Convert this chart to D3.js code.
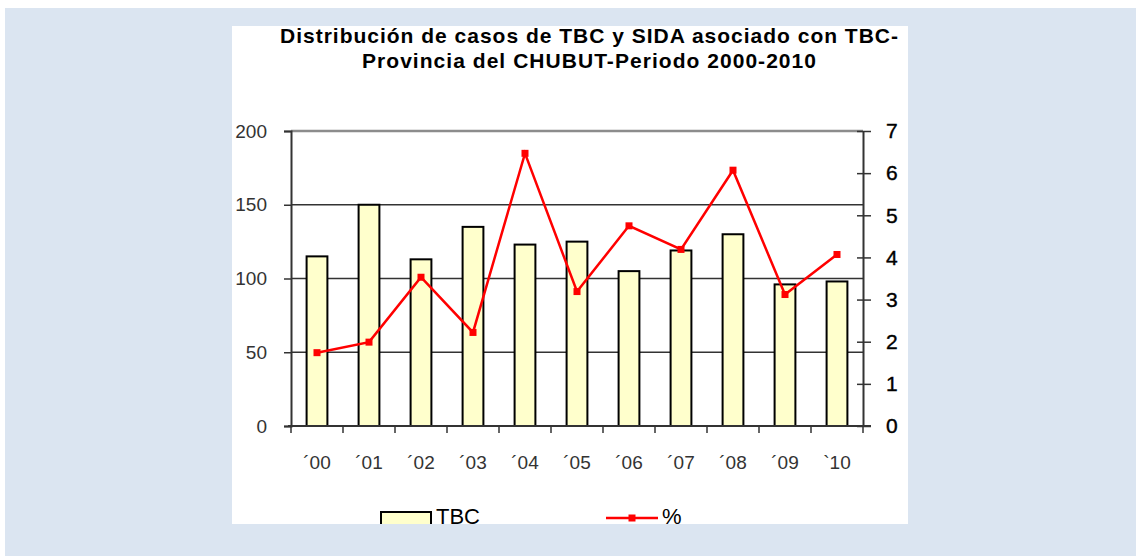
<!DOCTYPE html>
<html>
<head>
<meta charset="utf-8">
<script src="https://cdn.jsdelivr.net/npm/d3@7"></script>
<style>
  body { margin: 0; background: #fff; }
  svg { display: block; }
  text { font-family: "Liberation Sans", Arial, sans-serif; }
</style>
</head>
<body>
<div id="chart"></div>
<script>
// data
var years = ["\u00B400", "\u00B401", "\u00B402", "\u00B403", "\u00B404", "\u00B405", "\u00B406", "\u00B407", "\u00B408", "\u00B409", "`10"];
var tbc = [115, 150, 113, 135, 123, 125, 105, 119, 130, 96, 98];
var pct = [1.74, 1.99, 3.53, 2.22, 6.47, 3.19, 4.75, 4.19, 6.07, 3.12, 4.07];
var leftTicks = [0, 50, 100, 150, 200];
var rightTicks = [0, 1, 2, 3, 4, 5, 6, 7];
var titleLines = ["Distribución de casos de TBC y SIDA asociado con TBC-", "Provincia del CHUBUT-Periodo 2000-2010"];
var titleWidths = [618, 454];

var W = 1136, H = 556;
var plot = {left: 291, right: 863, top: 131, bottom: 426};

var svg = d3.select("#chart").append("svg")
    .attr("width", W)
    .attr("height", H);

// backdrop + white panel
svg.append("rect").attr("x", 5).attr("y", 8).attr("width", W - 5).attr("height", H - 8).attr("fill", "#dbe5f1");
svg.append("rect").attr("x", 232).attr("y", 26).attr("width", 676).attr("height", 498).attr("fill", "#fff");

var x = d3.scaleBand()
    .domain(years)
    .range([plot.left, plot.right])
    .paddingInner(0.6)
    .paddingOuter(0.3);

var yL = d3.scaleLinear().domain([0, 200]).range([plot.bottom, plot.top]);
var yR = d3.scaleLinear().domain([0, 7]).range([plot.bottom, plot.top]);

// title
svg.append("g").selectAll("text")
    .data(titleLines)
    .enter().append("text")
    .attr("x", 589)
    .attr("y", function(d, i) { return 43 + i * 25; })
    .attr("text-anchor", "middle")
    .attr("font-size", 21)
    .attr("font-weight", "bold")
    .attr("fill", "#000")
    .attr("textLength", function(d, i) { return titleWidths[i]; })
    .attr("lengthAdjust", "spacing")
    .text(function(d) { return d; });

// gridlines
svg.append("g").selectAll("line")
    .data([50, 100, 150])
    .enter().append("line")
    .attr("x1", plot.left).attr("x2", plot.right)
    .attr("y1", yL).attr("y2", yL)
    .attr("stroke", "#333").attr("stroke-width", 1.5);

svg.append("line")
    .attr("x1", plot.left).attr("x2", plot.right)
    .attr("y1", yL(200)).attr("y2", yL(200))
    .attr("stroke", "#8c8c8c").attr("stroke-width", 2.5);

// bars
svg.append("g").selectAll("rect")
    .data(tbc)
    .enter().append("rect")
    .attr("x", function(d, i) { return x(years[i]); })
    .attr("y", function(d) { return yL(d); })
    .attr("width", x.bandwidth())
    .attr("height", function(d) { return yL(0) - yL(d); })
    .attr("fill", "#ffffcc")
    .attr("stroke", "#000")
    .attr("stroke-width", 2);

// left axis
var gl = svg.append("g")
    .attr("transform", "translate(" + plot.left + ",0)")
    .call(d3.axisLeft(yL).tickValues(leftTicks).tickSize(7).tickPadding(17));
gl.select(".domain").attr("stroke", "#333").attr("stroke-width", 2);
gl.selectAll(".tick line").attr("stroke", "#333").attr("stroke-width", 1.5);
gl.selectAll(".tick text")
    .attr("font-size", 19).attr("fill", "#333")
    .attr("font-family", "Liberation Sans, Arial, sans-serif");

// right axis, ticks cross the line
var gr = svg.append("g")
    .attr("transform", "translate(" + plot.right + ",0)")
    .call(d3.axisRight(yR).tickValues(rightTicks).tickFormat(d3.format("d"))
      .tickSize(8).tickPadding(15).tickSizeOuter(0));
gr.select(".domain").attr("stroke", "#333").attr("stroke-width", 2);
gr.selectAll(".tick line").attr("x1", -6).attr("stroke", "#333").attr("stroke-width", 1.5);
gr.selectAll(".tick text")
    .attr("font-size", 21).attr("fill", "#000")
    .attr("stroke", "#000").attr("stroke-width", 0.4)
    .attr("font-family", "Liberation Sans, Arial, sans-serif");

// x axis baseline with ticks at band edges
var edges = years.map(function(c, i) { return plot.left + i * x.step(); }).concat([plot.right]);
svg.append("line")
    .attr("x1", plot.left - 3).attr("x2", plot.right + 8)
    .attr("y1", plot.bottom).attr("y2", plot.bottom)
    .attr("stroke", "#333").attr("stroke-width", 2);
svg.append("g").selectAll("line")
    .data(edges)
    .enter().append("line")
    .attr("x1", function(d) { return d; }).attr("x2", function(d) { return d; })
    .attr("y1", plot.bottom).attr("y2", plot.bottom + 7)
    .attr("stroke", "#333").attr("stroke-width", 1.5);

svg.append("g").selectAll("text")
    .data(years)
    .enter().append("text")
    .attr("x", function(d) { return x(d) + x.bandwidth() / 2; })
    .attr("y", 469)
    .attr("text-anchor", "middle")
    .attr("font-size", 19)
    .attr("fill", "#333")
    .text(function(d) { return d; });

// % line
var line = d3.line()
    .x(function(d, i) { return x(years[i]) + x.bandwidth() / 2; })
    .y(function(d) { return yR(d); });

svg.append("path")
    .datum(pct)
    .attr("d", line)
    .attr("fill", "none")
    .attr("stroke", "#ff0000")
    .attr("stroke-width", 2.5);

svg.append("g").selectAll("rect")
    .data(pct)
    .enter().append("rect")
    .attr("x", function(d, i) { return x(years[i]) + x.bandwidth() / 2 - 3.5; })
    .attr("y", function(d) { return yR(d) - 3.5; })
    .attr("width", 7).attr("height", 7)
    .attr("fill", "#ff0000");

// legend (clipped by the panel bottom)
var clip = svg.append("clipPath").attr("id", "panelclip");
clip.append("rect").attr("x", 232).attr("y", 26).attr("width", 676).attr("height", 498);
var lg = svg.append("g").attr("clip-path", "url(#panelclip)");

lg.append("rect")
    .attr("x", 381).attr("y", 512).attr("width", 50).attr("height", 16)
    .attr("fill", "#ffffcc").attr("stroke", "#000").attr("stroke-width", 2);
lg.append("text")
    .attr("x", 436).attr("y", 524)
    .attr("font-size", 22).attr("fill", "#000")
    .text("TBC");

lg.append("line")
    .attr("x1", 606).attr("x2", 658).attr("y1", 518).attr("y2", 518)
    .attr("stroke", "#ff0000").attr("stroke-width", 2.5);
lg.append("rect")
    .attr("x", 628.5).attr("y", 514.5).attr("width", 7).attr("height", 7)
    .attr("fill", "#ff0000");
lg.append("text")
    .attr("x", 662).attr("y", 524)
    .attr("font-size", 22).attr("fill", "#000")
    .text("%");
</script>
</body>
</html>
